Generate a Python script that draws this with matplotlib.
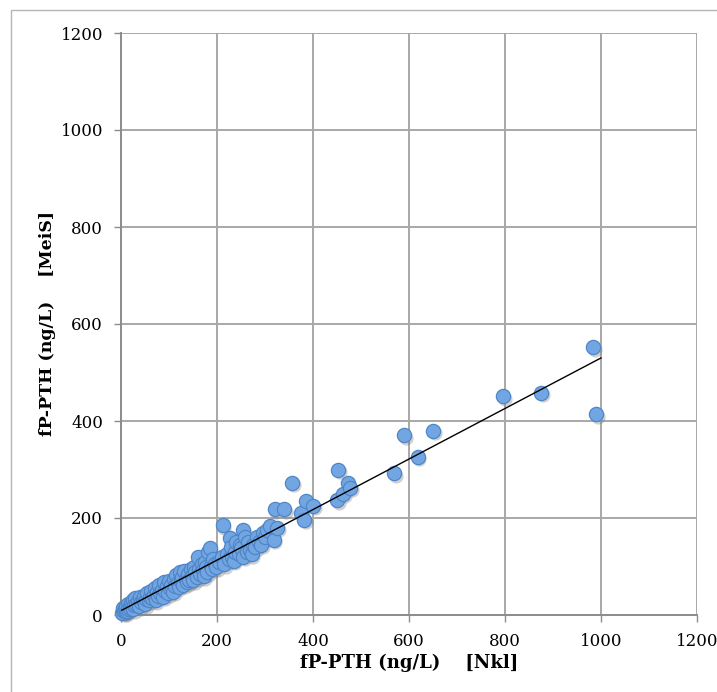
import matplotlib
matplotlib.use("Agg")
import matplotlib.pyplot as plt
import matplotlib.transforms as mtransforms
from matplotlib.patches import Rectangle

# Data
x_nkl = [2, 4, 5, 6, 8, 10, 10, 12, 14, 15, 18, 20, 22, 25, 25, 28, 30, 32, 35, 38, 40, 42, 45, 48, 50, 52,
         55, 58, 60, 62, 65, 68, 70, 72, 75, 78, 80, 82, 85, 88, 90, 92, 95, 98, 100,
         102, 105, 108, 110, 112, 115, 118, 120, 122, 125, 128, 130, 132, 135, 138, 140, 142, 145, 148, 150,
         152, 155, 158, 160, 162, 165, 168, 170, 172, 175, 178, 180, 182, 185, 188, 190, 192, 195, 198,
         205, 210, 212, 215, 220, 225, 227, 230, 232, 235, 238, 240, 245, 248, 250, 254, 255,
         258, 262, 265, 269, 272, 275, 280, 283, 288, 292, 296, 300,
         305, 310, 318, 320, 325, 340, 356, 375, 381, 385, 400, 450, 452, 463, 473, 477,
         569, 590, 618, 650, 796, 875, 983, 990]
y_meis = [5, 10, 14, 8, 12, 6, 18, 9, 22, 12, 15, 25, 18, 12, 30, 20, 35, 22, 28, 18, 38, 26, 30, 40, 22, 34,
          45, 30, 38, 50, 35, 42, 55, 30, 48, 40, 62, 45, 52, 38, 68, 50, 60, 45, 70,
          55, 62, 48, 75, 60, 82, 66, 58, 88, 70, 78, 62, 90, 75, 68, 85, 72, 95, 80, 72,
          100, 88, 78, 120, 95, 85, 105, 92, 80, 110, 98, 88, 130, 138, 102, 95, 115, 105, 98,
          110, 120, 185, 105, 125, 115, 158, 140, 120, 112, 130, 150, 125, 145, 138, 175, 120,
          160, 130, 150, 135, 125, 145, 140, 160, 150, 145, 170, 160,
          175, 183, 155, 218, 180, 218, 273, 210, 196, 235, 225, 237, 300, 250, 272, 262,
          292, 371, 326, 380, 451, 458, 552, 414]

trend_x = [2, 1000]
trend_y = [10, 530]

ticks = [0, 200, 400, 600, 800, 1000, 1200]

W, H = 717, 692
fig = plt.figure(figsize=(W / 100, H / 100), dpi=100)

# outer chart border (left & top visible)
fig.patches.append(Rectangle((11 / W, -0.2), 1.5, 1.2 - 10 / H, transform=fig.transFigure,
                             fill=False, edgecolor="#b5b5b5", linewidth=1.0))

ax = fig.add_axes([121 / W, 1 - 615 / H, (697 - 121) / W, (615 - 33) / H])
ax.set_xlim(0, 1200)
ax.set_ylim(0, 1200)
ax.set_xticks(ticks)
ax.set_yticks(ticks)
ax.set_xticklabels([str(t) for t in ticks])
ax.set_yticklabels([str(t) for t in ticks])

ax.grid(True, color="#a8a8a8", linewidth=1.4, zorder=0)
ax.set_axisbelow(True)
for s in ["top", "right"]:
    ax.spines[s].set_visible(False)
for s in ["left", "bottom"]:
    ax.spines[s].set_color("#8c8c8c")
    ax.spines[s].set_linewidth(1.4)

ax.tick_params(axis="both", colors="#8c8c8c", length=5, width=1.0, labelcolor="black",
               labelsize=12)
for lab in ax.get_xticklabels() + ax.get_yticklabels():
    lab.set_fontfamily("DejaVu Serif")
ax.tick_params(axis="y", pad=8)
ax.tick_params(axis="x", pad=8)

# shadow
shadow = mtransforms.offset_copy(ax.transData, fig=fig, x=1.2, y=-1.8, units="points")
ax.scatter(x_nkl, y_meis, s=105, color="#7a7a7a", alpha=0.35, linewidths=0, transform=shadow, zorder=2,
           clip_on=False)
ax.scatter(x_nkl, y_meis, s=105, facecolor="#72a6e3", edgecolor="#4f86c8", linewidths=0.9, zorder=3,
           clip_on=False)

ax.plot(trend_x, trend_y, color="black", linewidth=1.0, zorder=4)

ax.set_xlabel("fP-PTH (ng/L)    [Nkl]", fontfamily="DejaVu Serif", fontweight="bold",
              fontsize=13, labelpad=3)
ax.set_ylabel("fP-PTH (ng/L)    [MeiS]", fontfamily="DejaVu Serif", fontweight="bold",
              fontsize=12.5, labelpad=3)

fig.savefig("out.png", dpi=100)
